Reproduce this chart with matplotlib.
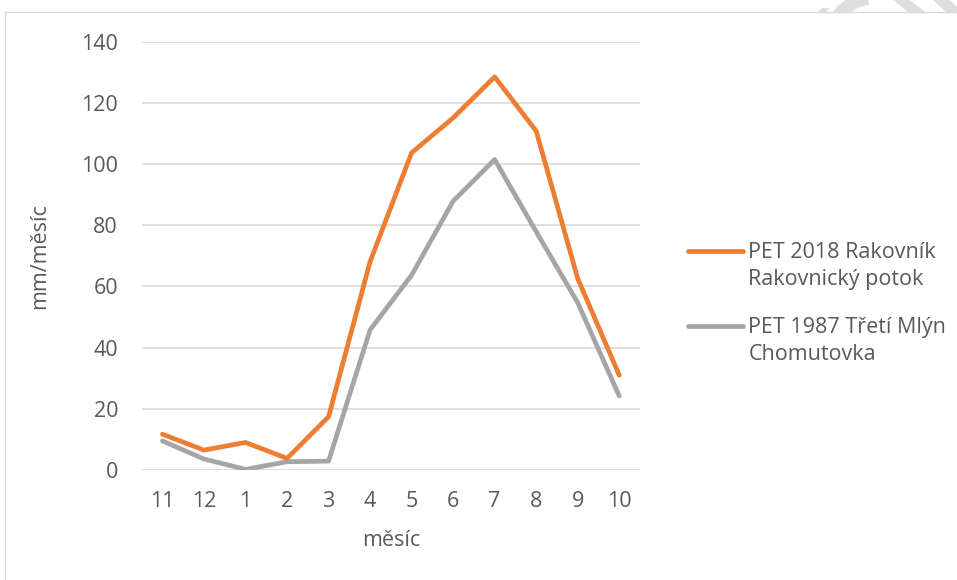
import numpy as np
import matplotlib
matplotlib.use("Agg")
import matplotlib.pyplot as plt
from matplotlib.patches import Rectangle, Polygon, Wedge
from matplotlib.transforms import Bbox, Affine2D
from matplotlib.legend_handler import HandlerLine2D

# data
mesice = ["11", "12", "1", "2", "3", "4", "5", "6", "7", "8", "9", "10"]
pet_2018 = [11.7, 6.5, 9.0, 3.8, 17.4, 68.1, 103.7, 115.1, 128.5, 110.8, 62.6, 31.0]
pet_1987 = [9.5, 3.6, 0.2, 2.7, 2.9, 45.8, 63.7, 87.9, 101.5, 77.9, 54.7, 24.2]
label_2018 = "PET 2018 Rakovník\nRakovnický potok"
label_1987 = "PET 1987 Třetí Mlýn\nChomutovka"
yticks = [0, 20, 40, 60, 80, 100, 120, 140]

txt_color = "#595959"
grid_color = "#D9D9D9"
plt.rcParams["font.family"] = ["Open Sans", "DejaVu Sans"]
fs = 15.5

W, H = 957, 580
fig = plt.figure(figsize=(W / 100, H / 100), dpi=100)

# light frame around chart area (runs off right/bottom edge)
fig.patches.append(Rectangle((5 / W, -0.1), 1.2, (H - 12) / H + 0.1, transform=fig.transFigure,
                             fill=False, edgecolor=grid_color, linewidth=1.0))

# faint watermark fragments above the frame, top right (pixel coords, y up)
wm = "#DEDEDE"
px = Affine2D()  # display pixels
clip = Bbox([[0, H - 11.5], [W, H]])
marks = [
    Wedge((872, H - 40), 48, 95, 175, width=13),
    Polygon([(818, H - 12), (826, H - 12), (830, H - 8), (822, H - 8)]),
    Polygon([(893, H), (910, H), (925, H - 12), (908, H - 12)]),
    Polygon([(933, H), (950, H), (963, H - 12), (946, H - 12)]),
]
for p in marks:
    p.set_transform(px)
    p.set_facecolor(wm)
    p.set_edgecolor("none")
    p.set_clip_box(clip)
    fig.patches.append(p)

ax = fig.add_axes([141.7 / W, 110 / H, (640 - 141.7) / W, 428.3 / H])
x = np.arange(len(mesice))
ax.plot(x, pet_2018, color="#ED7D31", linewidth=3.4, solid_capstyle="round",
        solid_joinstyle="round", label=label_2018, zorder=3)
ax.plot(x, pet_1987, color="#A5A5A5", linewidth=3.4, solid_capstyle="round",
        solid_joinstyle="round", label=label_1987, zorder=2)

ax.set_xlim(-0.5, len(mesice) - 0.5)
ax.set_ylim(0, 140)
ax.set_xticks(x)
ax.set_xticklabels(mesice)
ax.set_yticks(yticks)
ax.grid(axis="y", color=grid_color, linewidth=1.2)
ax.set_axisbelow(True)
for s in ax.spines.values():
    s.set_visible(False)
ax.tick_params(length=0, labelsize=fs, labelcolor=txt_color)
ax.tick_params(axis="y", pad=17)
ax.tick_params(axis="x", pad=15)

ax.set_xlabel("měsíc", fontsize=fs, color=txt_color, labelpad=13)
ax.set_ylabel("mm/měsíc", fontsize=fs, color=txt_color, labelpad=22)


# legend swatch next to the first line of a two-line label
class FirstLineHandler(HandlerLine2D):
    def create_artists(self, legend, orig_handle, xdescent, ydescent, width, height, fontsize, trans):
        arts = super().create_artists(legend, orig_handle, xdescent, ydescent, width, height, fontsize, trans)
        for a in arts:
            a.set_ydata(np.asarray(a.get_ydata()) + 0.71 * fontsize)
        return arts


leg = ax.legend(loc="upper left", bbox_to_anchor=(688 / W, 1 - 242 / H), bbox_transform=fig.transFigure,
                frameon=False, fontsize=fs, handlelength=2.55, handletextpad=0.25, borderpad=0,
                borderaxespad=0, labelspacing=1.27, labelcolor=txt_color,
                handler_map={matplotlib.lines.Line2D: FirstLineHandler()})
for t in leg.get_texts():
    t.set_linespacing(1.37)

fig.savefig("out.png", dpi=100)
